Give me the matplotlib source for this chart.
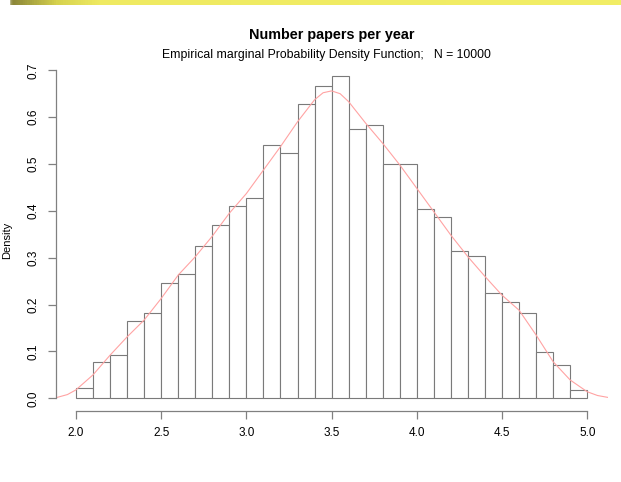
import matplotlib
matplotlib.use("Agg")
import matplotlib.pyplot as plt
import numpy as np
from matplotlib.colors import LinearSegmentedColormap

plt.rcParams['font.family'] = ['Liberation Sans', 'DejaVu Sans']

# histogram: bin edges and density per bin
bin_edges = [2.0, 2.1, 2.2, 2.3, 2.4, 2.5, 2.6, 2.7, 2.8, 2.9, 3.0,
             3.1, 3.2, 3.3, 3.4, 3.5, 3.6, 3.7, 3.8, 3.9, 4.0,
             4.1, 4.2, 4.3, 4.4, 4.5, 4.6, 4.7, 4.8, 4.9, 5.0]
bin_density = [0.022, 0.077, 0.092, 0.166, 0.181, 0.246, 0.266, 0.326, 0.370, 0.411,
               0.427, 0.541, 0.524, 0.627, 0.666, 0.688, 0.575, 0.584, 0.499, 0.501,
               0.405, 0.386, 0.315, 0.304, 0.225, 0.205, 0.183, 0.098, 0.072, 0.018]

# smoothed density estimate
kde_x = [1.80, 1.88, 1.95, 2.0, 2.1, 2.2, 2.3, 2.4, 2.5, 2.6, 2.7, 2.8, 2.9, 3.0,
         3.1, 3.2, 3.3, 3.4, 3.45, 3.5, 3.55, 3.6, 3.7, 3.8, 3.9, 4.0,
         4.1, 4.2, 4.3, 4.4, 4.5, 4.6, 4.7, 4.8, 4.9, 5.0, 5.06, 5.12, 5.2]
kde_y = [0.0, 0.001, 0.008, 0.018, 0.050, 0.092, 0.131, 0.167, 0.213, 0.263, 0.302, 0.346, 0.395, 0.437,
         0.487, 0.537, 0.590, 0.637, 0.652, 0.656, 0.650, 0.633, 0.587, 0.544, 0.498, 0.448,
         0.398, 0.348, 0.302, 0.260, 0.220, 0.188, 0.135, 0.078, 0.039, 0.014, 0.006, 0.002, 0.0]

W, H = 621, 482
fig = plt.figure(figsize=(W / 100, H / 100), dpi=100)

# yellow header strip
band = fig.add_axes([0, 1 - 5 / H, 1, 5 / H])
cmap = LinearSegmentedColormap.from_list(
    "band", [(0.0, "#ffffff"), (0.014, "#ffffff"), (0.016, "#8a8538"),
             (0.09, "#d6d24e"), (0.16, "#efea62"), (1.0, "#f2ee66")])
band.imshow(np.linspace(0, 1, 600)[None, :], aspect="auto", cmap=cmap,
            extent=[0, 1, 0, 1])
band.axis("off")

left, right, top, bottom = 55.5, 607.7, 63.0, 411.2
ax = fig.add_axes([left / W, 1 - bottom / H, (right - left) / W, (bottom - top) / H])

widths = np.diff(bin_edges)
ax.bar(bin_edges[:-1], bin_density, width=widths, align="edge",
       color="white", edgecolor="#7a7a7a", linewidth=0.8)
ax.plot(kde_x, kde_y, color="#ffa3a3", linewidth=0.8)

ax.set_xlim(1.88, 5.12)
ax.set_ylim(-0.0275, 0.7155)

for s in ["top", "right"]:
    ax.spines[s].set_visible(False)
ax.spines["left"].set_bounds(0, 0.7)
ax.spines["bottom"].set_bounds(2.0, 5.0)
for s in ["left", "bottom"]:
    ax.spines[s].set_color("#808080")
    ax.spines[s].set_linewidth(0.9)

ax.set_xticks([2.0, 2.5, 3.0, 3.5, 4.0, 4.5, 5.0])
ax.set_yticks([0.0, 0.1, 0.2, 0.3, 0.4, 0.5, 0.6, 0.7])
ax.set_xticklabels(["2.0", "2.5", "3.0", "3.5", "4.0", "4.5", "5.0"])
ax.set_yticklabels(["0.0", "0.1", "0.2", "0.3", "0.4", "0.5", "0.6", "0.7"],
                   rotation=90, va="center")
ax.tick_params(direction="out", length=5.5, width=0.9, color="#808080",
               labelsize=8.5, pad=6)

fig.text(7 / W, 1 - 240 / H, "Density", rotation=90, ha="center", va="center", fontsize=8)
fig.text(331.6 / W, 1 - 35 / H, "Number papers per year", ha="center", va="center",
         fontsize=10.4, fontweight="bold")
fig.text(326 / W, 1 - 55 / H,
         "Empirical marginal Probability Density Function;   N = 10000",
         ha="center", va="center", fontsize=8.8)

fig.savefig("out.png", dpi=100)
